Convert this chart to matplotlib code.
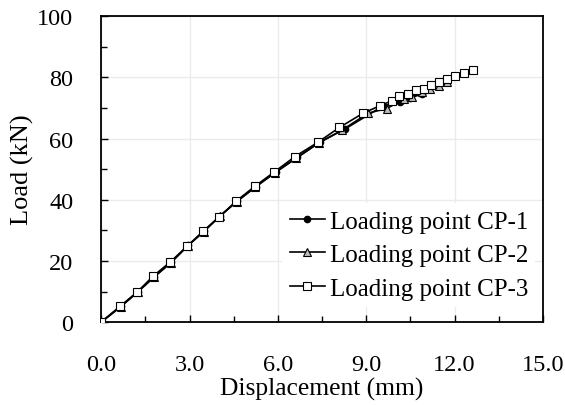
# Load-displacement curves for loading points CP-1 to CP-3.

import matplotlib.pyplot as plt
from matplotlib.ticker import MultipleLocator, FormatStrFormatter

plt.rcParams["font.family"] = ["Liberation Serif", "DejaVu Serif"]
plt.rcParams["font.size"] = 17.5

# displacement (mm), load (kN)
cp1_x = [0.0, 0.68, 1.26, 1.80, 2.38, 2.96, 3.50, 4.04, 4.62, 5.26, 5.92, 6.66,
         7.42, 8.28, 9.58, 10.14, 10.50, 10.90]
cp1_y = [0.0, 5.2, 10.0, 14.8, 19.5, 25.1, 29.8, 34.7, 39.6, 44.3, 49.0, 53.8,
         58.8, 63.1, 70.7, 71.8, 73.2, 74.6]

cp2_x = [0.0, 0.66, 1.24, 1.78, 2.36, 2.94, 3.48, 4.02, 4.60, 5.24, 5.90, 6.62,
         7.40, 8.17, 9.07, 9.70, 10.28, 10.57, 10.88, 11.16, 11.47, 11.73]
cp2_y = [0.0, 5.0, 9.9, 14.6, 19.4, 25.0, 29.5, 34.6, 39.3, 44.2, 48.8, 53.6,
         58.6, 62.7, 68.3, 69.8, 72.9, 73.6, 75.3, 76.3, 77.3, 78.4]

cp3_x = [0.0, 0.64, 1.22, 1.76, 2.34, 2.92, 3.46, 4.00, 4.58, 5.22, 5.87, 6.58,
         7.35, 8.09, 8.90, 9.47, 9.86, 10.12, 10.42, 10.69, 10.97, 11.20, 11.48,
         11.75, 12.03, 12.32, 12.64]
cp3_y = [0.0, 5.2, 9.8, 15.0, 19.6, 24.8, 29.7, 34.3, 39.5, 44.4, 49.0, 54.1,
         58.7, 63.6, 68.3, 70.7, 72.3, 73.8, 74.7, 75.8, 76.3, 77.6, 78.4,
         79.3, 80.5, 81.3, 82.4]

labels = ["Loading point CP-1", "Loading point CP-2", "Loading point CP-3"]


def main():
    fig = plt.figure(figsize=(5.65, 4.06), dpi=100)
    ax = fig.add_axes([0.179, 0.204, 0.782, 0.754])

    ax.plot(cp1_x, cp1_y, color="k", lw=1.2, marker="o", ms=4.5,
            mfc="k", mec="k", label=labels[0], zorder=3)
    ax.plot(cp2_x, cp2_y, color="k", lw=1.2, marker="^", ms=5.5,
            mfc="#bbbbbb", mec="k", mew=0.8, label=labels[1], zorder=4)
    ax.plot(cp3_x, cp3_y, color="k", lw=1.2, marker="s", ms=5.5,
            mfc="white", mec="k", mew=0.8, label=labels[2], zorder=5)

    ax.set_xlim(0, 15)
    ax.set_ylim(0, 100)
    ax.xaxis.set_major_locator(MultipleLocator(3))
    ax.xaxis.set_minor_locator(MultipleLocator(1.5))
    ax.xaxis.set_major_formatter(FormatStrFormatter("%.1f"))
    ax.yaxis.set_major_locator(MultipleLocator(20))
    ax.yaxis.set_minor_locator(MultipleLocator(10))

    ax.grid(True, which="major", color="#ebebeb", lw=1.0, zorder=0)
    ax.set_axisbelow(True)
    ax.tick_params(which="both", direction="in", top=False, right=False)
    ax.tick_params(which="major", length=5, width=1.0)
    ax.tick_params(which="minor", length=4, width=1.0)
    ax.tick_params(axis="x", pad=23)
    ax.tick_params(axis="y", pad=20)
    for s in ax.spines.values():
        s.set_linewidth(1.3)

    ax.set_xlabel("Displacement (mm)", fontsize=18.4, labelpad=1)
    ax.set_ylabel("Load (kN)", fontsize=19, labelpad=2)

    leg = ax.legend(loc="lower right", bbox_to_anchor=(0.983, 0.049),
                    frameon=True, fontsize=18, handlelength=1.4,
                    handletextpad=0.2, labelspacing=0.44, borderaxespad=0,
                    borderpad=0.3)
    leg.get_frame().set_edgecolor("none")
    leg.get_frame().set_facecolor("white")
    leg.get_frame().set_alpha(1.0)

    fig.savefig("out.png", dpi=100)


if __name__ == "__main__":
    main()
